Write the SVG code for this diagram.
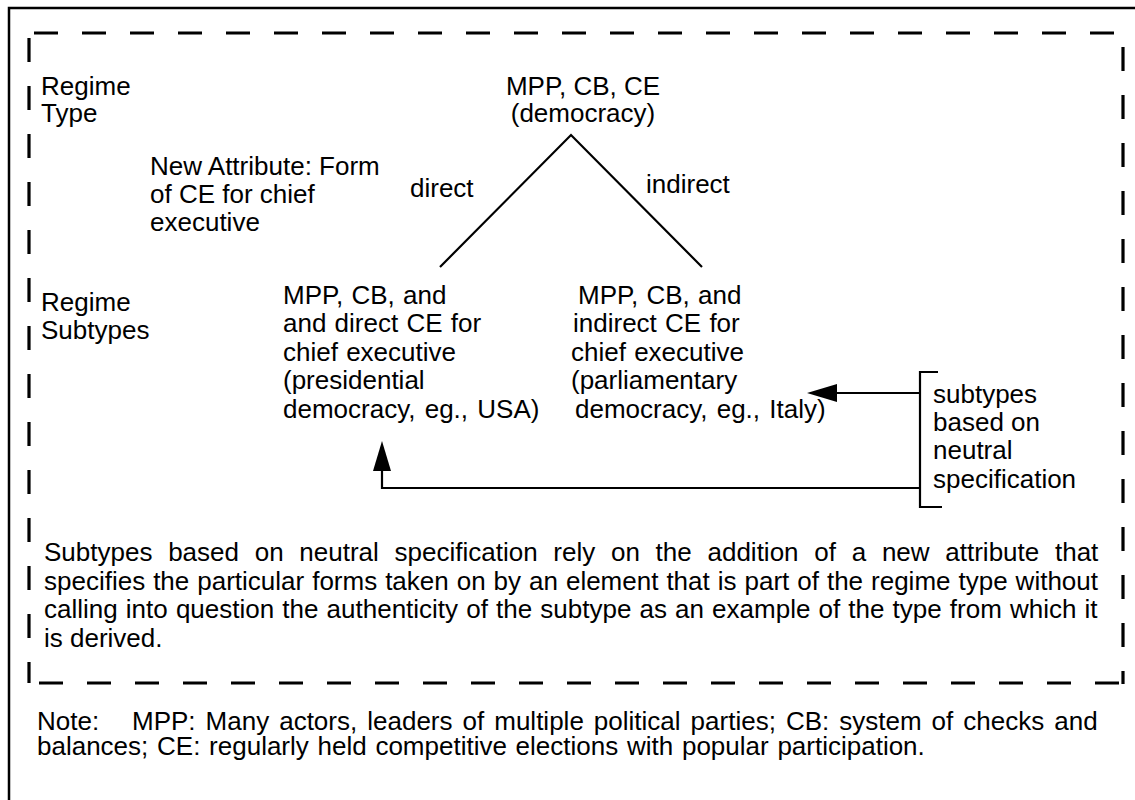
<svg xmlns="http://www.w3.org/2000/svg" width="1135" height="800" viewBox="0 0 1135 800">
<style>
text{font-family:"Liberation Sans",Arial,sans-serif;font-size:26px;fill:#000}
.frame{fill:none;stroke:#000;stroke-width:2.5}
.dash{fill:none;stroke:#000;stroke-width:3.2;stroke-dasharray:24 24}
.ln{fill:none;stroke:#000;stroke-width:2.2}
</style>
<defs>
<marker id="ah" markerUnits="userSpaceOnUse" markerWidth="30" markerHeight="18" refX="1" refY="9" orient="auto">
<path d="M0,0 L30,9 L0,18 z" fill="#000"/>
</marker>
</defs>
<rect width="1135" height="800" fill="#fff"/>
<path class="frame" d="M9,812 V8 H1145"/>
<g id="boundary">
<line class="dash" x1="34" y1="33" x2="1123" y2="33"/>
<line class="dash" x1="29" y1="38" x2="29" y2="683"/>
<line class="dash" x1="1123" y1="47" x2="1123" y2="684"/>
<line class="dash" x1="39" y1="683" x2="1124" y2="683"/>
</g>
<g id="level-labels">
<text x="41" y="95">Regime</text>
<text x="41" y="122">Type</text>
<text x="41" y="311">Regime</text>
<text x="41" y="339">Subtypes</text>
</g>
<g id="node-democracy">
<text x="583" y="95" text-anchor="middle">MPP, CB, CE</text>
<text x="583" y="122" text-anchor="middle">(democracy)</text>
</g>
<g id="new-attribute">
<text x="150" y="175">New Attribute: Form</text>
<text x="150" y="203">of CE for chief</text>
<text x="150" y="231">executive</text>
</g>
<g id="node-presidential">
<text x="283" y="303.5" word-spacing="1">MPP, CB, and</text>
<text x="283" y="332" word-spacing="1">and direct CE for</text>
<text x="283" y="360.5" word-spacing="1">chief executive</text>
<text x="283" y="389">(presidential</text>
<text x="283" y="417.5" word-spacing="2">democracy, eg., USA)</text>
</g>
<g id="node-parliamentary">
<text x="578" y="303.5" word-spacing="1">MPP, CB, and</text>
<text x="573" y="332" word-spacing="1">indirect CE for</text>
<text x="571" y="360.5" word-spacing="1">chief executive</text>
<text x="571" y="389">(parliamentary</text>
<text x="575" y="417.5" word-spacing="2">democracy, eg., Italy)</text>
</g>
<g id="node-neutral">
<path class="ln" d="M938,372 H920 V507 H942"/>
<text x="933" y="403">subtypes</text>
<text x="933" y="431">based on</text>
<text x="933" y="459">neutral</text>
<text x="933" y="488">specification</text>
</g>
<g id="connectors">
<path class="ln" d="M440,267 L571,135 L702,267"/>
<text x="410" y="197">direct</text>
<text x="646" y="193">indirect</text>
<path class="ln" d="M920,393 H836" marker-end="url(#ah)"/>
<path class="ln" d="M920,488 H382 V470" marker-end="url(#ah)"/>
</g>
<g id="explanation">
<text x="44" y="561" word-spacing="8.5">Subtypes based on neutral specification rely on the addition of a new attribute that</text>
<text x="44" y="590" word-spacing="0.75">specifies the particular forms taken on by an element that is part of the regime type without</text>
<text x="44" y="618" word-spacing="0.9">calling into question the authenticity of the subtype as an example of the type from which it</text>
<text x="44" y="647">is derived.</text>
</g>
<g id="note">
<text x="37" y="730">Note:</text>
<text x="132" y="730" word-spacing="2.8">MPP: Many actors, leaders of multiple political parties; CB: system of checks and</text>
<text x="37" y="755" word-spacing="1.5">balances; CE: regularly held competitive elections with popular participation.</text>
</g>
</svg>
